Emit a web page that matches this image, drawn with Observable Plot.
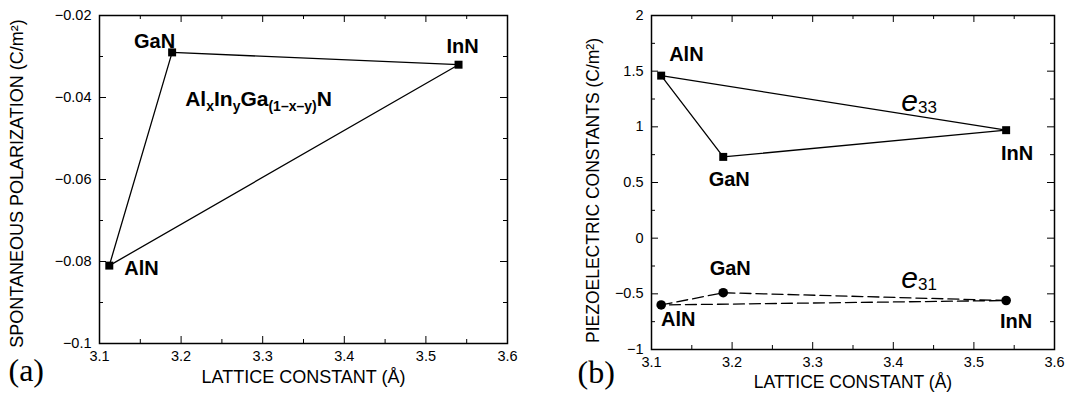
<!DOCTYPE html>
<html><head><meta charset="utf-8">
<script src="https://cdn.jsdelivr.net/npm/d3@7"></script>
<script src="https://cdn.jsdelivr.net/npm/@observablehq/plot@0.6"></script>
<style>
body{margin:0;background:#fff;}
#wrap{position:relative;width:1066px;height:394px;overflow:hidden;background:#fff;}
#a,#b{position:absolute;top:0;}
#a{left:0}
#b{left:533px}
</style></head><body><div id="wrap"><div id="a"></div><div id="b"></div></div>
<script>
// ---- data ----
const compounds = ["AlN", "GaN", "InN"];
const lattice = [3.112, 3.189, 3.54];
const spontaneous = [-0.081, -0.029, -0.032];
const e33 = [1.46, 0.73, 0.97];
const e31 = [-0.60, -0.49, -0.56];
const xTicks = [3.1, 3.2, 3.3, 3.4, 3.5, 3.6];
const xMinor = [3.15, 3.25, 3.35, 3.45, 3.55];
const yTicksA = [-0.1, -0.08, -0.06, -0.04, -0.02];
const yMinorA = [-0.09, -0.07, -0.05, -0.03];
const yTicksB = [-1, -0.5, 0, 0.5, 1, 1.5, 2];
const yMinorB = [-0.75, -0.25, 0.25, 0.75, 1.25, 1.75];
const alloyNote = [{x: 3.205, y: -0.042, text: "ALLOY"}];
const e33Note = [{x: 3.41, y: 1.14, text: "E33"}];
const e31Note = [{x: 3.41, y: -0.45, text: "E31"}];

const W = 533, H = 394;
const FONT = "'Liberation Sans', Arial, Helvetica, sans-serif";
const SERIF = "'Liberation Serif', 'DejaVu Serif', serif";
const fmt = d => (d < 0 ? "\u2212" : "") + String(Math.abs(d));
const rowsA = compounds.map((c, i) => ({name: c, a: lattice[i], p: spontaneous[i]}));
const rows33 = compounds.map((c, i) => ({name: c, a: lattice[i], e: e33[i]}));
const rows31 = compounds.map((c, i) => ({name: c, a: lattice[i], e: e31[i]}));

function frameTicks(fw, fh, xs, ys, len) {
  return [
    Plot.tickX(xs, {x: d => d, insetTop: fh - len, stroke: "black"}),
    Plot.tickX(xs, {x: d => d, insetBottom: fh - len, stroke: "black"}),
    Plot.tickY(ys, {y: d => d, insetRight: fw - len, stroke: "black"}),
    Plot.tickY(ys, {y: d => d, insetLeft: fw - len, stroke: "black"})
  ];
}
function label(rows, name, x, y, anchor, dx, dy) {
  return Plot.text(rows.filter(d => d.name === name), {
    x, y, text: "name", textAnchor: anchor, lineAnchor: "middle", dx, dy,
    fontSize: 20, fontWeight: "bold", fill: "black"
  });
}
function rich(svg, marker, parts) {
  d3.select(svg).selectAll("text").filter(function () { return this.textContent === marker; })
    .each(function () {
      const t = d3.select(this);
      t.text(null);
      let shift = 0;
      for (const p of parts) {
        const ts = t.append("tspan").text(p.t);
        if (p.size) ts.attr("font-size", p.size);
        if (p.style) ts.attr("font-style", p.style);
        const target = p.dy || 0;
        if (target !== shift) { ts.attr("dy", target - shift); shift = target; }
      }
    });
}

// ---- panel (a) ----
const mA = {left: 99, right: 26, top: 15, bottom: 51};
const fwA = W - mA.left - mA.right, fhA = H - mA.top - mA.bottom;
const plotA = Plot.plot({
  width: W, height: H,
  marginLeft: mA.left, marginRight: mA.right, marginTop: mA.top, marginBottom: mA.bottom,
  style: {fontFamily: FONT, fontSize: "14.5px", color: "black", background: "white"},
  x: {domain: [3.1, 3.6]},
  y: {domain: [-0.1, -0.02]},
  marks: [
    ...frameTicks(fwA, fhA, xTicks, yTicksA, 7),
    ...frameTicks(fwA, fhA, xMinor, yMinorA, 4),
    Plot.axisX({ticks: xTicks, tickFormat: fmt, tickSize: 0, tickPadding: 7, label: null, fontSize: 14.5}),
    Plot.axisY({ticks: yTicksA, tickFormat: fmt, tickSize: 0, tickPadding: 8, label: null, fontSize: 14.5}),
    Plot.frame({stroke: "black", strokeWidth: 1.5}),
    Plot.line(rowsA, {x: "a", y: "p", curve: "linear-closed", stroke: "black", strokeWidth: 1.3}),
    Plot.dot(rowsA, {x: "a", y: "p", symbol: "square", r: 4.5, fill: "black"}),
    label(rowsA, "GaN", "a", "p", "end", 3, -11),
    label(rowsA, "InN", "a", "p", "middle", 4, -18),
    label(rowsA, "AlN", "a", "p", "start", 15, 3),
    Plot.text(alloyNote, {x: "x", y: "y", text: "text", textAnchor: "start", lineAnchor: "bottom", fontSize: 21, fontWeight: "bold", fill: "black"}),
    Plot.text(["LATTICE CONSTANT (Å)"], {frameAnchor: "bottom", dy: 34, textAnchor: "middle", lineAnchor: "middle", fontSize: 18, fill: "black"}),
    Plot.text(["SPONTANEOUS POLARIZATION (C/m²)"], {frameAnchor: "left", dx: -82, dy: 4, rotate: -90, textAnchor: "middle", lineAnchor: "middle", fontSize: 18, fill: "black"}),
    Plot.text(["(a)"], {frameAnchor: "bottom-left", dx: -91, dy: 27, textAnchor: "start", lineAnchor: "middle", fontSize: 32, fontFamily: SERIF, fill: "black"})
  ]
});
rich(plotA, "ALLOY", [
  {t: "Al"}, {t: "x", size: 14, dy: 5}, {t: "In"}, {t: "y", size: 14, dy: 5},
  {t: "Ga"}, {t: "(1–x–y)", size: 14, dy: 5}, {t: "N"}
]);
document.getElementById("a").appendChild(plotA);

// ---- panel (b) ----
const mB = {left: 118, right: 12, top: 15, bottom: 45};
const fwB = W - mB.left - mB.right, fhB = H - mB.top - mB.bottom;
const plotB = Plot.plot({
  width: W, height: H,
  marginLeft: mB.left, marginRight: mB.right, marginTop: mB.top, marginBottom: mB.bottom,
  style: {fontFamily: FONT, fontSize: "14.5px", color: "black", background: "white"},
  x: {domain: [3.1, 3.6]},
  y: {domain: [-1, 2]},
  marks: [
    ...frameTicks(fwB, fhB, xTicks, yTicksB, 7),
    ...frameTicks(fwB, fhB, xMinor, yMinorB, 4),
    Plot.axisX({ticks: xTicks, tickFormat: fmt, tickSize: 0, tickPadding: 7, label: null, fontSize: 14.5}),
    Plot.axisY({ticks: yTicksB, tickFormat: fmt, tickSize: 0, tickPadding: 8, label: null, fontSize: 14.5}),
    Plot.frame({stroke: "black", strokeWidth: 1.5}),
    Plot.line(rows33, {x: "a", y: "e", curve: "linear-closed", stroke: "black", strokeWidth: 1.3}),
    Plot.dot(rows33, {x: "a", y: "e", symbol: "square", r: 4.5, fill: "black"}),
    Plot.line(rows31, {x: "a", y: "e", curve: "linear-closed", stroke: "black", strokeWidth: 1.3, strokeDasharray: "11,5"}),
    Plot.dot(rows31, {x: "a", y: "e", symbol: "circle", r: 4.8, fill: "black"}),
    label(rows33, "AlN", "a", "e", "start", 8, -21),
    label(rows33, "GaN", "a", "e", "middle", 6, 23),
    label(rows33, "InN", "a", "e", "middle", 11, 23),
    label(rows31, "GaN", "a", "e", "middle", 7, -24),
    label(rows31, "AlN", "a", "e", "middle", 17, 15),
    label(rows31, "InN", "a", "e", "middle", 10, 21),
    Plot.text(e33Note, {x: "x", y: "y", text: "text", textAnchor: "start", lineAnchor: "bottom", fontSize: 30, fill: "black"}),
    Plot.text(e31Note, {x: "x", y: "y", text: "text", textAnchor: "start", lineAnchor: "bottom", fontSize: 30, fill: "black"}),
    Plot.text(["LATTICE CONSTANT (Å)"], {frameAnchor: "bottom", dy: 33, textAnchor: "middle", lineAnchor: "middle", fontSize: 17.5, fill: "black"}),
    Plot.text(["PIEZOELECTRIC CONSTANTS (C/m²)"], {frameAnchor: "left", dx: -58, dy: 8, rotate: -90, textAnchor: "middle", lineAnchor: "middle", fontSize: 17.5, fill: "black"}),
    Plot.text(["(b)"], {frameAnchor: "bottom-left", dx: -74, dy: 23, textAnchor: "start", lineAnchor: "middle", fontSize: 32, fontFamily: SERIF, fill: "black"})
  ]
});
rich(plotB, "E33", [{t: "e", style: "italic"}, {t: "33", size: 17, dy: 2}]);
rich(plotB, "E31", [{t: "e", style: "italic"}, {t: "31", size: 17, dy: 2}]);
document.getElementById("b").appendChild(plotB);
</script></body></html>
